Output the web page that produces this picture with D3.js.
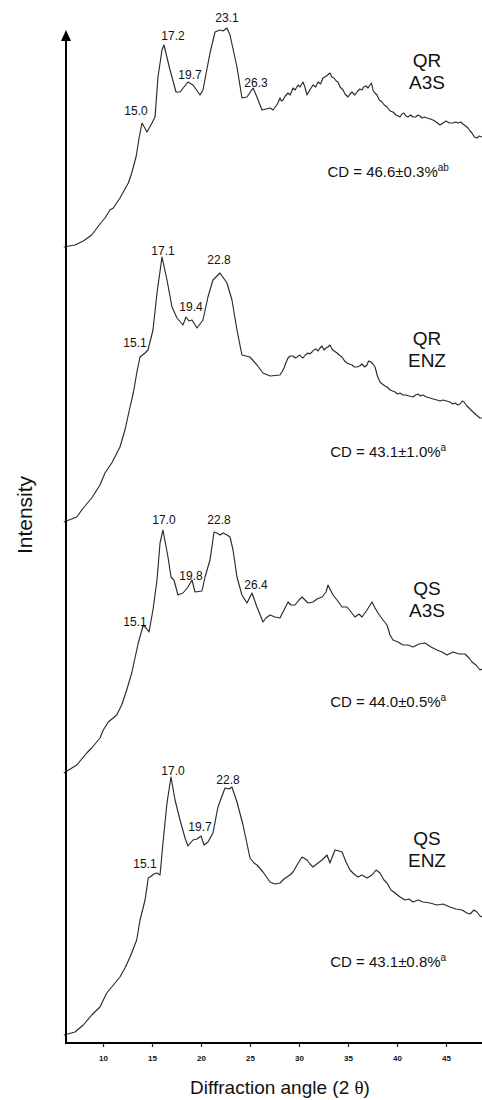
<!DOCTYPE html>
<html>
<head>
<meta charset="utf-8">
<script src="https://cdn.jsdelivr.net/npm/d3@7"></script>
<style>
  html, body { margin: 0; padding: 0; background: #fff; }
  svg { display: block; }
  text { font-family: "Liberation Sans", Arial, Helvetica, sans-serif; fill: #111; }
</style>
</head>
<body>
<svg id="chart" width="482" height="1100"></svg>
<script>
// ---------- DATA ----------
// [diffraction angle 2θ, intensity above the trace's own baseline (arbitrary units)]
const qrA3S = [[6.0,0],[7.14,2],[7.99,6],[8.85,12],[9.69,23],[10.2,29],[10.71,37],[11.05,39],[11.73,49],[12.58,64],[12.93,74],[13.37,90],[13.7,110],[13.98,124],[14.49,115],[15.0,124],[15.31,130],[15.61,170],[16.02,197],[16.22,202],[16.84,177],[17.45,155],[17.86,155],[18.67,165],[19.18,162],[19.9,152],[20.2,157],[20.92,194],[21.43,215],[21.94,217],[22.24,216],[22.65,219],[22.96,212],[23.67,180],[24.18,149],[24.69,150],[25.31,159],[25.71,150],[26.22,137],[27.04,139],[27.35,137],[27.65,141],[27.85,144],[28.06,149],[28.2,146],[28.37,147],[28.6,151],[28.88,154],[29.1,152],[29.39,159],[29.6,157],[29.9,162],[30.1,160],[30.41,165],[30.6,160],[30.82,152],[31.1,157],[31.43,162],[31.7,160],[31.94,165],[32.2,163],[32.45,169],[32.8,171],[33.16,174],[33.35,170],[33.57,169],[33.8,166],[33.98,165],[34.2,160],[34.49,157],[34.7,153],[35.0,150],[35.2,153],[35.41,155],[35.7,152],[35.92,155],[36.2,158],[36.43,157],[36.6,160],[36.84,161],[37.05,159],[37.24,162],[37.4,164],[37.55,157],[37.75,154],[37.96,152],[38.2,147],[38.47,145],[38.7,142],[38.98,140],[39.3,136],[39.59,135],[39.9,132],[40.31,130],[40.5,133],[40.71,134],[40.9,131],[41.12,130],[41.4,132],[41.63,130],[41.9,130],[42.14,132],[42.35,131],[42.55,129],[42.8,130],[43.06,129],[43.4,128],[43.67,127],[44.0,125],[44.39,122],[44.7,124],[45.0,126],[45.35,124],[45.71,124],[46.0,125],[46.22,124],[46.5,125],[46.73,123],[47.0,121],[47.24,119],[47.45,116],[47.65,114],[47.9,110],[48.16,109],[48.4,111],[48.67,110]];

const qrENZ = [[6.0,0],[7.32,5],[7.99,14],[8.85,24],[9.69,37],[10.2,49],[10.89,59],[11.73,75],[12.24,92],[12.76,115],[13.09,129],[13.5,152],[13.78,165],[14.29,169],[14.59,172],[15.1,192],[15.51,229],[16.02,265],[16.53,242],[17.04,215],[17.55,204],[18.16,197],[18.47,205],[18.78,201],[19.08,202],[19.59,194],[20.2,202],[20.71,225],[21.22,242],[21.94,249],[22.65,239],[23.16,222],[23.67,192],[24.18,167],[24.99,165],[25.71,157],[26.33,149],[27.04,146],[28.06,147],[28.25,150],[28.47,154],[28.7,160],[28.88,164],[29.1,166],[29.39,166],[29.6,164],[29.8,165],[30.1,167],[30.25,165],[30.41,164],[30.65,167],[30.92,169],[31.1,168],[31.33,170],[31.5,172],[31.73,173],[31.95,171],[32.14,174],[32.35,176],[32.55,172],[32.75,174],[32.96,175],[33.15,177],[33.37,173],[33.6,171],[33.88,169],[34.1,167],[34.39,165],[34.65,161],[34.9,159],[35.15,158],[35.41,157],[35.65,155],[35.92,155],[36.2,156],[36.43,158],[36.7,155],[36.94,157],[37.1,161],[37.35,160],[37.55,158],[37.76,155],[38.0,146],[38.27,140],[38.5,138],[38.78,136],[39.0,135],[39.29,132],[39.55,131],[39.8,130],[40.05,128],[40.31,129],[40.6,127],[40.92,127],[41.25,126],[41.63,125],[41.9,127],[42.14,128],[42.4,126],[42.65,127],[43.0,125],[43.37,124],[43.7,123],[44.08,122],[44.4,121],[44.69,122],[45.05,121],[45.41,120],[45.7,118],[45.92,119],[46.2,117],[46.43,118],[46.65,121],[46.84,120],[47.14,116],[47.45,113],[47.76,110],[48.1,107],[48.47,104],[48.67,104]];

const qsA3S = [[6.0,0],[7.32,8],[8.34,20],[8.85,25],[9.69,35],[10.03,43],[10.54,51],[11.4,58],[11.91,68],[12.42,83],[12.93,100],[13.6,130],[14.11,148],[14.39,145],[14.69,141],[15.1,163],[15.51,193],[15.82,230],[16.12,243],[16.63,216],[16.94,196],[17.24,193],[17.65,178],[18.16,180],[18.67,186],[19.08,193],[19.39,181],[20.1,182],[20.41,196],[20.92,213],[21.33,241],[21.63,240],[21.94,238],[22.24,240],[22.65,238],[22.96,236],[23.27,223],[23.67,196],[24.18,178],[24.69,170],[25.2,180],[25.71,166],[26.33,151],[26.63,155],[27.04,158],[27.55,156],[28.06,155],[28.47,163],[28.88,171],[29.18,168],[29.59,168],[30.0,173],[30.31,176],[30.61,173],[30.92,170],[31.43,171],[31.84,174],[32.35,176],[32.76,181],[32.96,188],[33.47,178],[33.88,173],[34.39,166],[34.9,166],[35.31,161],[35.71,156],[36.12,159],[36.43,156],[36.94,163],[37.45,171],[37.76,165],[38.06,160],[38.57,153],[38.98,148],[39.29,138],[39.59,133],[40.1,131],[40.61,128],[41.12,128],[41.63,126],[42.24,129],[42.86,130],[43.47,126],[44.08,123],[44.59,121],[45.1,118],[45.71,121],[46.33,119],[46.94,119],[47.35,115],[47.65,111],[48.06,108],[48.47,103],[48.67,104]];

const qsENZ = [[6.0,0],[7.14,3],[7.99,10],[8.85,20],[9.69,28],[10.38,42],[10.89,48],[11.73,58],[12.24,67],[12.76,78],[13.44,95],[13.78,115],[14.29,135],[14.62,157],[14.8,158],[15.2,161],[15.51,162],[15.82,160],[16.12,192],[16.53,232],[16.94,258],[17.35,235],[17.86,215],[18.37,197],[18.67,189],[19.18,195],[19.59,196],[20.0,199],[20.31,190],[20.71,193],[21.22,202],[21.73,228],[22.45,247],[22.86,246],[23.16,248],[23.67,233],[24.29,210],[25.0,177],[25.41,172],[25.71,170],[26.33,163],[27.04,153],[27.55,151],[28.06,152],[28.47,156],[28.78,158],[29.08,160],[29.39,163],[29.8,170],[30.31,178],[30.82,175],[31.12,171],[31.43,168],[31.94,172],[32.35,175],[32.86,180],[33.16,172],[33.67,185],[34.08,184],[34.39,183],[34.8,173],[35.2,165],[35.61,161],[36.02,158],[36.43,160],[36.94,157],[37.45,160],[37.86,165],[38.27,162],[38.67,155],[38.98,152],[39.39,145],[39.8,142],[40.31,138],[40.82,135],[41.22,136],[41.63,133],[42.14,135],[42.65,133],[43.37,132],[44.08,130],[44.69,131],[45.41,128],[46.02,126],[46.63,125],[47.14,122],[47.45,121],[47.86,125],[48.16,123],[48.47,119],[48.67,118]];

// vertical stacking offsets of the four traces (intensity units)
const stackOffsets = [796, 521, 270, 8];
const sampleNames = [["QR", "A3S"], ["QR", "ENZ"], ["QS", "A3S"], ["QS", "ENZ"]];
const cdValues = ["46.6±0.3%", "43.1±1.0%", "44.0±0.5%", "43.1±0.8%"];
const cdLetters = ["ab", "a", "a", "a"];
const nameLevels = [180, 177, 178, 190];
const cdLevels = [70, 65, 66, 68];

// peak annotations: label text, angle and level (relative to each trace's baseline)
const peakLabels = [
  ["15.0", "17.2", "19.7", "23.1", "26.3"],
  ["15.1", "17.1", "19.4", "22.8"],
  ["15.1", "17.0", "19.8", "22.8", "26.4"],
  ["15.1", "17.0", "19.7", "22.8"]
];
const peakAngles = [
  [13.37, 17.14, 18.88, 22.65, 25.61],
  [13.27, 16.12, 18.98, 21.84],
  [13.27, 16.22, 18.98, 21.84, 25.61],
  [14.29, 17.14, 19.90, 22.76]
];
const peakLevels = [
  [132, 207, 168, 225, 160],
  [175, 267, 211, 258],
  [147, 249, 193, 249, 184],
  [167, 260, 204, 251]
];

const majorTicks = [10, 15, 20, 25, 30, 35, 40, 45];
const minorTicks = d3.range(7, 49);
const yTitle = "Intensity";

// ---------- DRAW ----------
const svg = d3.select("#chart");
const x = d3.scaleLinear().domain([6.224, 48.674]).range([66, 482]);
const y = d3.scaleLinear().domain([0, 1013]).range([1043, 30]);

const series = [qrA3S, qrENZ, qsA3S, qsENZ];
const line = d3.line().x(d => x(d[0])).y(d => y(d[1]));

series.forEach((data, i) => {
  const pts = data.map(d => [d[0], d[1] + stackOffsets[i]]);
  svg.append("path")
    .attr("d", line(pts))
    .attr("fill", "none")
    .attr("stroke", "#2a2a2a")
    .attr("stroke-width", 1.15)
    .attr("stroke-linejoin", "round");

  peakLabels[i].forEach((t, k) => {
    svg.append("text")
      .attr("x", x(peakAngles[i][k]))
      .attr("y", y(peakLevels[i][k] + stackOffsets[i]))
      .attr("text-anchor", "middle")
      .attr("font-size", 12)
      .text(t);
  });

  sampleNames[i].forEach((t, k) => {
    svg.append("text")
      .attr("x", x(43.06))
      .attr("y", y(nameLevels[i] + stackOffsets[i]) + k * 22)
      .attr("text-anchor", "middle")
      .attr("font-size", 19)
      .text(t);
  });

  const cd = svg.append("text")
    .attr("x", x(39.1))
    .attr("y", y(cdLevels[i] + stackOffsets[i]))
    .attr("text-anchor", "middle")
    .attr("font-size", 15);
  cd.append("tspan").text("CD = " + cdValues[i]);
  cd.append("tspan").attr("font-size", 10).attr("dy", -6).text(cdLetters[i]);
});

// x axis
const xAxisG = svg.append("g").attr("transform", `translate(0,${y(0)})`);
xAxisG.call(d3.axisBottom(x).tickValues(minorTicks).tickSize(3).tickFormat(""));
xAxisG.call(d3.axisBottom(x).tickValues(majorTicks).tickSize(4).tickFormat(d3.format("d")));
xAxisG.selectAll(".domain").attr("stroke", "#000").attr("stroke-width", 2).attr("d", `M${x(6.224)},0H482`);
xAxisG.selectAll(".tick line").attr("stroke", "#222").attr("stroke-width", 1.2);
xAxisG.selectAll(".tick text")
  .attr("font-size", 8).attr("font-weight", "bold").attr("dy", "1.35em")
  .attr("font-family", "'Liberation Sans', Arial, sans-serif").attr("fill", "#111");

// y axis with arrow head
svg.append("line")
  .attr("x1", x(6.224)).attr("x2", x(6.224))
  .attr("y1", y(0) + 1).attr("y2", y(1002))
  .attr("stroke", "#000").attr("stroke-width", 2);
svg.append("path")
  .attr("d", `M${x(6.224) - 5},${y(1002)} L${x(6.224)},${y(1013)} L${x(6.224) + 5},${y(1002)} Z`)
  .attr("fill", "#000");

// titles
const xt = svg.append("text")
  .attr("x", 280).attr("y", 1094)
  .attr("text-anchor", "middle").attr("font-size", 19);
xt.append("tspan").text("Diffraction angle (2 ");
xt.append("tspan").attr("font-family", "'Liberation Serif', 'DejaVu Serif', serif").text("θ");
xt.append("tspan").text(")");

svg.append("text")
  .attr("transform", "translate(32,515) rotate(-90)")
  .attr("text-anchor", "middle").attr("font-size", 21)
  .text(yTitle);
</script>
</body>
</html>
